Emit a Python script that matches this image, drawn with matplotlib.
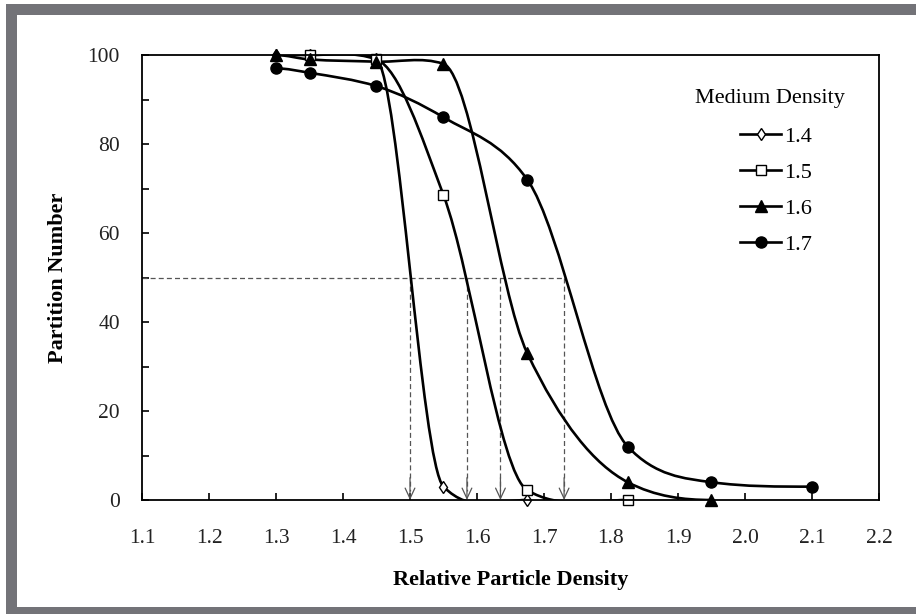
import numpy as np
import matplotlib
matplotlib.use("Agg")
import matplotlib.pyplot as plt
from matplotlib.path import Path
from matplotlib.patches import PathPatch, Rectangle
from matplotlib.lines import Line2D
from matplotlib.ticker import MultipleLocator, FormatStrFormatter

plt.rcParams['font.family'] = ['Liberation Serif', 'DejaVu Serif']

# ---- data ----
series_labels = ["1.4", "1.5", "1.6", "1.7"]
x14 = [1.30, 1.35, 1.45, 1.55, 1.675]
y14 = [100, 100, 99, 3, 0]
x15 = [1.35, 1.45, 1.55, 1.675, 1.825]
y15 = [100, 99, 68.5, 2.2, 0]
x16 = [1.30, 1.35, 1.45, 1.55, 1.675, 1.825, 1.95]
y16 = [100, 99, 98.5, 98, 33, 4, 0]
x17 = [1.30, 1.35, 1.45, 1.55, 1.675, 1.825, 1.95, 2.10]
y17 = [97, 96, 93, 86, 72, 12, 4, 3]
cut_points = [1.50, 1.585, 1.635, 1.73]   # d50 values
cut_level = 50

W, H = 916, 614
fig = plt.figure(figsize=(W / 100, H / 100), dpi=100)
fig.patch.set_facecolor('white')
grey = '#737378'
def px_rect(x0, y0, x1, y1):
    fig.add_artist(Rectangle((x0 / W, 1 - y1 / H), (x1 - x0) / W, (y1 - y0) / H,
                             transform=fig.transFigure, facecolor=grey,
                             edgecolor='none', zorder=0))
px_rect(6, 4, 916, 15)
px_rect(6, 4, 17, 614)
px_rect(6, 607, 916, 614)

ax = fig.add_axes([142 / W, 1 - 500 / H, (879 - 142) / W, (500 - 55) / H])
ax.set_xlim(1.1, 2.2)
ax.set_ylim(0, 100)

def node_slopes(x, y):
    """geometric-mean slopes of adjacent secants (smooth, little overshoot)"""
    x = np.asarray(x, float); y = np.asarray(y, float)
    d = np.diff(y) / np.diff(x)
    n = len(x)
    m = np.zeros(n)
    for k in range(1, n - 1):
        if d[k - 1] * d[k] > 0:
            m[k] = np.sign(d[k]) * np.sqrt(d[k - 1] * d[k])
    return m

def smooth_path(xs, ys):
    x = np.asarray(xs, float); y = np.asarray(ys, float)
    m = node_slopes(x, y)
    verts = [(x[0], y[0])]
    codes = [Path.MOVETO]
    for i in range(len(x) - 1):
        h = x[i + 1] - x[i]
        verts += [(x[i] + h / 3, y[i] + m[i] * h / 3),
                  (x[i + 1] - h / 3, y[i + 1] - m[i + 1] * h / 3),
                  (x[i + 1], y[i + 1])]
        codes += [Path.CURVE4] * 3
    return Path(np.array(verts), codes)

lw = 1.9
styles = [
    dict(marker='d', ms=6, mfc='white', mec='black', mew=1.0),
    dict(marker='s', ms=7.5, mfc='white', mec='black', mew=1.0),
    dict(marker='^', ms=8, mfc='black', mec='black', mew=1.0),
    dict(marker='o', ms=8, mfc='black', mec='black', mew=1.0),
]
data = [(x14, y14), (x15, y15), (x16, y16), (x17, y17)]
handles = []
for (xs, ys), st, lab in zip(data, styles, series_labels):
    ax.add_patch(PathPatch(smooth_path(xs, ys), facecolor='none', edgecolor='black',
                           lw=lw, zorder=3, clip_on=True))
    ax.plot(xs, ys, linestyle='none', zorder=4, clip_on=False, **st)
    handles.append(Line2D([], [], color='black', lw=lw, **st))

# dashed guide lines
dcol = '#555555'
ax.plot([1.1, max(cut_points)], [cut_level, cut_level], linestyle=(0, (4, 2.5)),
        color=dcol, lw=0.9, zorder=2)
for c in cut_points:
    ax.plot([c, c], [cut_level, 2], linestyle=(0, (4, 2.5)), color=dcol, lw=0.9, zorder=2)
    ax.annotate('', xy=(c, 0), xytext=(c, 5),
                arrowprops=dict(arrowstyle='->,head_length=0.75,head_width=0.35',
                                color=dcol, lw=0.9, shrinkA=0, shrinkB=0), zorder=2)

# axes styling
for s in ax.spines.values():
    s.set_linewidth(1.3)
    s.set_color('black')
    s.set_zorder(5)
ax.xaxis.set_major_locator(MultipleLocator(0.1))
ax.xaxis.set_major_formatter(FormatStrFormatter('%.1f'))
ax.yaxis.set_major_locator(MultipleLocator(20))
ax.yaxis.set_minor_locator(MultipleLocator(10))
ax.tick_params(axis='both', which='both', direction='in', length=5, width=1.2,
               labelsize=15.5, colors='black')
ax.tick_params(axis='x', pad=21)
ax.tick_params(axis='y', pad=16)
for t in ax.get_xticklabels() + ax.get_yticklabels():
    t.set_color('#222222')

ax.set_xlabel('Relative Particle Density', fontsize=16, fontweight='bold', labelpad=16)
ax.set_ylabel('Partition Number', fontsize=16, fontweight='bold', labelpad=14)

# legend
fig.text(770 / W, 1 - 98 / H, 'Medium Density', ha='center', va='center', fontsize=16)
leg = ax.legend(handles, series_labels, loc='upper left',
                bbox_to_anchor=(740 / W, 1 - 126 / H), bbox_transform=fig.transFigure,
                frameon=False, fontsize=16, handlelength=1.85, handletextpad=0.15,
                labelspacing=0.7, borderpad=0, borderaxespad=0)

fig.savefig('out.png', dpi=100, facecolor='white')
